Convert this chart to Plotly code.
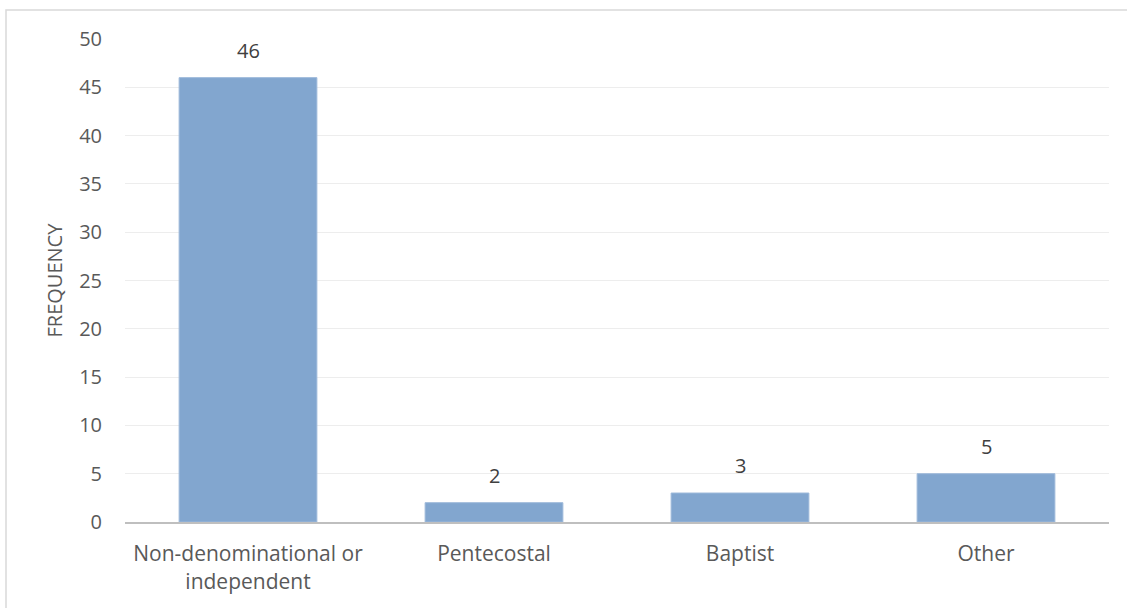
import plotly.graph_objects as go

categories = ["Non-denominational or<br>independent", "Pentecostal", "Baptist", "Other"]
values = [46, 2, 3, 5]
y_ticks = [0, 5, 10, 15, 20, 25, 30, 35, 40, 45, 50]

W, H = 1127, 608
L, R, T, B = 125, 18, 39, 86
pw = W - L - R
ph = H - T - B

FONT = "Open Sans"

fig = go.Figure(go.Bar(
    x=categories, y=values,
    marker=dict(color="#82A6CF", line=dict(width=1, color="#9DB9DA")),
    width=0.56,
    cliponaxis=False,
    hoverinfo="x+y",
))

annotations = [
    dict(x=c, y=v, xref="x", yref="y", text=str(v), showarrow=False,
         yanchor="bottom", yshift=12,
         font=dict(size=20, color="#404040", family=FONT))
    for c, v in zip(categories, values)
]
annotations.append(dict(
    x=(54 - L) / pw, y=0.5, xref="paper", yref="paper", text="FREQUENCY",
    textangle=-90, showarrow=False, xanchor="center", yanchor="middle",
    font=dict(size=20, color="#595959", family=FONT),
))

fig.update_layout(
    width=W, height=H,
    margin=dict(l=L, r=R, t=T, b=B),
    paper_bgcolor="white", plot_bgcolor="white",
    font=dict(family=FONT, size=20, color="#595959"),
    showlegend=False,
    xaxis=dict(
        showgrid=False, showline=True, linecolor="#BFBFBF", linewidth=2,
        ticks="", ticklabelstandoff=12, tickfont=dict(size=21, color="#595959"),
    ),
    yaxis=dict(
        range=[0, 50], tickvals=y_ticks, showgrid=True, gridcolor="#EDEDED", gridwidth=1,
        zeroline=False, showline=False, ticks="", ticklabelstandoff=22,
        tickfont=dict(size=20, color="#595959"),
    ),
    annotations=annotations,
    shapes=[dict(
        type="rect", xref="paper", yref="paper",
        x0=(6 - L) / pw, x1=(W + 20 - L) / pw,
        y0=-(H + 20 - T - ph) / ph, y1=1 + (T - 10) / ph,
        line=dict(color="#D9D9D9", width=1.5), fillcolor="rgba(0,0,0,0)", layer="below",
    )],
)

fig.write_html("out.html")
